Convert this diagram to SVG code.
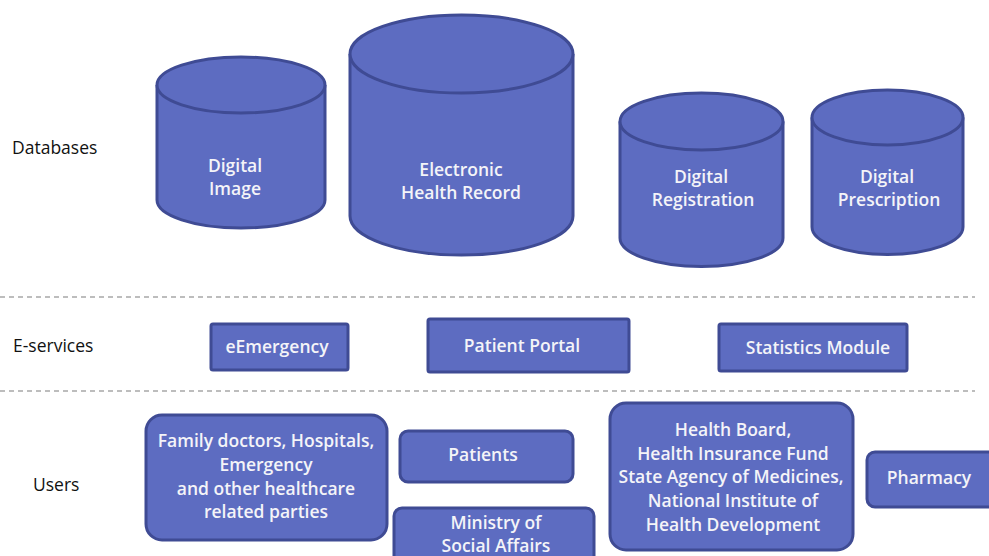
<svg xmlns="http://www.w3.org/2000/svg" width="989" height="556" viewBox="0 0 989 556">
<style>
.s{fill:#5d6cc1;stroke:#3f4b94;stroke-width:3}
.t{font-family:"Open Sans","Liberation Sans",sans-serif;font-size:17.5px;font-weight:600;fill:#f4f4f8;text-anchor:middle}
.l{font-family:"Open Sans","Liberation Sans",sans-serif;font-size:17.5px;fill:#111}
.d{stroke:#a8a8a8;stroke-width:1.3;stroke-dasharray:5,4;fill:none}
</style>
<rect width="989" height="556" fill="#fff"/>
<g id="labels">
<text class="l" x="12" y="154">Databases</text>
<text class="l" x="13" y="352">E-services</text>
<text class="l" x="33" y="491">Users</text>
</g>
<g id="separators">
<line class="d" x1="0" y1="297" x2="975" y2="297"/>
<line class="d" x1="0" y1="391" x2="975" y2="391"/>
</g>
<g id="db-image">
<path class="s" d="M157,85 L157,200 A84,28 0 0 0 325,200 L325,85"/>
<ellipse class="s" cx="241" cy="85" rx="84" ry="28"/>
<text class="t" x="235" y="172">Digital</text>
<text class="t" x="235" y="195">Image</text>
</g>
<g id="db-ehr">
<path class="s" d="M350,54 L350,216 A111.5,39 0 0 0 573,216 L573,54"/>
<ellipse class="s" cx="461.5" cy="54" rx="111.5" ry="39"/>
<text class="t" x="461" y="176">Electronic</text>
<text class="t" x="461" y="199">Health Record</text>
</g>
<g id="db-registration">
<path class="s" d="M620,121.5 L620,238 A81.5,28.5 0 0 0 783,238 L783,121.5"/>
<ellipse class="s" cx="701.5" cy="121.5" rx="81.5" ry="28.5"/>
<text class="t" x="701" y="183">Digital</text>
<text class="t" x="703" y="206">Registration</text>
</g>
<g id="db-prescription">
<path class="s" d="M812,117.5 L812,227 A75.5,27.5 0 0 0 963,227 L963,117.5"/>
<ellipse class="s" cx="887.5" cy="117.5" rx="75.5" ry="27.5"/>
<text class="t" x="887" y="183">Digital</text>
<text class="t" x="889" y="206">Prescription</text>
</g>
<g id="svc-eemergency">
<rect class="s" x="211" y="324" width="137" height="46" rx="2"/>
<text class="t" x="277" y="353">eEmergency</text>
</g>
<g id="svc-portal">
<rect class="s" x="428" y="319" width="201" height="53" rx="2"/>
<text class="t" x="522" y="352">Patient Portal</text>
</g>
<g id="svc-statistics">
<rect class="s" x="719" y="324" width="188" height="47" rx="2"/>
<text class="t" x="818" y="354">Statistics Module</text>
</g>
<g id="user-family">
<rect class="s" x="146" y="415" width="241" height="125" rx="16"/>
<text class="t" x="266" y="447">Family doctors, Hospitals,</text>
<text class="t" x="266" y="471">Emergency</text>
<text class="t" x="266" y="495">and other healthcare</text>
<text class="t" x="266" y="518">related parties</text>
</g>
<g id="user-patients">
<rect class="s" x="400" y="431" width="173" height="51" rx="8"/>
<text class="t" x="483" y="461">Patients</text>
</g>
<g id="user-ministry">
<rect class="s" x="394" y="508" width="200" height="60" rx="8"/>
<text class="t" x="496" y="529">Ministry of</text>
<text class="t" x="496" y="552">Social Affairs</text>
</g>
<g id="user-healthboard">
<rect class="s" x="610" y="403" width="243" height="147" rx="16"/>
<text class="t" x="733" y="436">Health Board,</text>
<text class="t" x="733" y="460">Health Insurance Fund</text>
<text class="t" x="731" y="483">State Agency of Medicines,</text>
<text class="t" x="733" y="507">National Institute of</text>
<text class="t" x="733" y="531">Health Development</text>
</g>
<g id="user-pharmacy">
<rect class="s" x="867" y="452" width="140" height="55" rx="8"/>
<text class="t" x="929" y="484">Pharmacy</text>
</g>
</svg>
